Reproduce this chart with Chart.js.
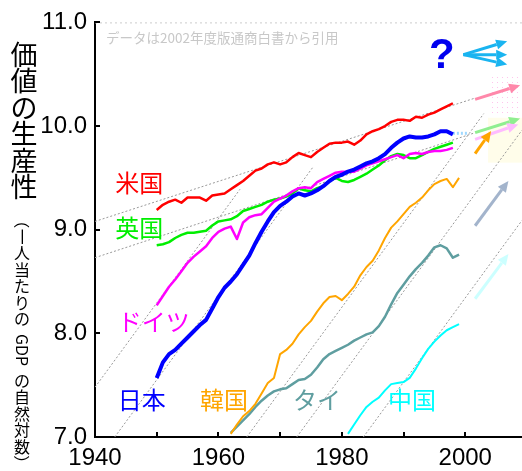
<!DOCTYPE html>
<html>
<head>
<meta charset="utf-8">
<script src="https://cdn.jsdelivr.net/npm/chart.js@4.4.0/dist/chart.umd.min.js"></script>
<style>
  html, body { margin: 0; padding: 0; background: #fff; }
</style>
</head>
<body>
<canvas id="c" width="522" height="471"></canvas>
<script>
// --- data (ln of GDP per capita) ---
const yearsWest = [1950,1951,1952,1953,1954,1955,1956,1957,1958,1959,1960,1961,1962,1963,1964,1965,1966,1967,1968,1969,
  1970,1971,1972,1973,1974,1975,1976,1977,1978,1979,1980,1981,1982,1983,1984,1985,1986,1987,1988,1989,
  1990,1991,1992,1993,1994,1995,1996,1997,1998];
const usa = [9.19,9.24,9.27,9.29,9.26,9.31,9.31,9.31,9.28,9.33,9.34,9.35,9.39,9.43,9.47,9.52,9.57,9.59,9.63,9.65,
  9.63,9.65,9.70,9.74,9.72,9.70,9.75,9.79,9.83,9.84,9.84,9.85,9.82,9.86,9.92,9.95,9.97,10.00,10.04,10.06,
  10.06,10.05,10.09,10.08,10.11,10.13,10.16,10.19,10.22];
const uk = [8.85,8.86,8.88,8.92,8.95,8.97,8.97,8.98,8.99,9.04,9.08,9.09,9.10,9.13,9.18,9.20,9.22,9.24,9.27,9.29,
  9.30,9.32,9.35,9.40,9.38,9.37,9.40,9.42,9.47,9.50,9.47,9.46,9.48,9.51,9.54,9.58,9.62,9.67,9.71,9.73,
  9.72,9.69,9.69,9.72,9.75,9.78,9.80,9.82,9.84];
const germany = [8.27,8.36,8.45,8.52,8.60,8.68,8.74,8.79,8.84,8.92,8.98,9.01,9.03,8.91,9.07,9.12,9.14,9.15,9.21,9.27,
  9.30,9.33,9.37,9.40,9.41,9.40,9.46,9.49,9.52,9.55,9.56,9.56,9.56,9.59,9.62,9.64,9.66,9.68,9.70,9.72,
  9.69,9.73,9.74,9.73,9.75,9.76,9.76,9.77,9.79];
const japan = [7.57,7.72,7.80,7.84,7.90,7.96,8.02,8.08,8.13,8.24,8.35,8.44,8.50,8.57,8.66,8.75,8.87,8.98,9.08,9.17,
  9.23,9.27,9.32,9.35,9.33,9.35,9.38,9.42,9.47,9.51,9.53,9.56,9.58,9.61,9.64,9.66,9.69,9.73,9.79,9.84,
  9.88,9.90,9.89,9.89,9.90,9.92,9.95,9.95,9.92];

const yearsAsia = [1962,1963,1964,1965,1966,1967,1968,1969,1970,1971,1972,1973,1974,1975,1976,1977,1978,1979,1980,
  1981,1982,1983,1984,1985,1986,1987,1988,1989,1990,1991,1992,1993,1994,1995,1996,1997,1998,1999];
const korea = [7.03,7.12,7.20,7.25,7.32,7.42,7.52,7.57,7.80,7.84,7.90,7.99,8.06,8.12,8.21,8.29,8.35,8.36,8.32,
  8.38,8.45,8.56,8.64,8.70,8.80,8.92,9.02,9.08,9.15,9.22,9.26,9.31,9.38,9.44,9.47,9.49,9.41,9.50];
const thai = [7.04,7.10,7.16,7.22,7.29,7.35,7.40,7.44,7.46,7.47,7.51,7.55,7.56,7.60,7.67,7.75,7.80,7.83,7.86,
  7.89,7.93,7.96,7.99,8.01,8.07,8.16,8.28,8.39,8.47,8.55,8.62,8.68,8.75,8.83,8.85,8.82,8.73,8.76];

const yearsChina = [1981,1982,1983,1984,1985,1986,1987,1988,1989,1990,1991,1992,1993,1994,1995,1996,1997,1998,1999];
const china = [7.03,7.12,7.21,7.29,7.34,7.38,7.45,7.51,7.52,7.53,7.57,7.66,7.76,7.85,7.92,7.98,8.03,8.06,8.09];

// dotted growth guides: [startYear, startValue, endYear, endValue]
const guideLines = [
  [1940, 9.08, 2001.6, 10.27],
  [1940, 8.73, 2001.3, 9.93],
  [1940, 7.48, 1963.5, 9.39],
  [1943.2, 7.0, 1975.4, 9.61],
  [1964.6, 7.0, 2003.0, 10.12],
  [1972.7, 7.0, 2009.2, 9.96],
  [1983.5, 7.0, 2009.2, 9.09]
];
const japanExt = [[1998, 9.93], [2000.4, 9.93]];

// future arrows: [fromYear, fromValue, toYear, toValue, colour]
const arrows = [
  [2001.6, 10.257, 2008.9, 10.394, '#ff88aa'],
  [2001.6, 9.936, 2008.9, 10.074, '#90ee90'],
  [2001.6, 9.872, 2008.6, 10.016, '#ffbbff'],
  [2001.6, 9.734, 2004.2, 9.952, '#ffa500'],
  [2001.6, 9.038, 2007.0, 9.471, '#a3b4cc'],
  [2001.6, 8.334, 2007.0, 8.766, '#ccffff'],
  [1999.7, 10.689, 2006.8, 10.817, '#1ab4f0'],
  [1999.7, 10.689, 2006.8, 10.689, '#1ab4f0'],
  [1999.7, 10.689, 2006.8, 10.593, '#1ab4f0']
];

const xTicks = [1940, 1950, 1960, 1970, 1980, 1990, 2000];
const xLabels = [1940, 1960, 1980, 2000];
const yTicks = [7, 8, 9, 10, 11];

const countryLabels = [
  ['米国', 1943.3, 9.45, '#ff0000'],
  ['英国', 1943.3, 9.02, '#00ee00'],
  ['ドイツ', 1943.7, 8.11, '#ff00ff'],
  ['日本', 1943.7, 7.36, '#0000ff'],
  ['韓国', 1957.0, 7.36, '#ffa500'],
  ['タイ', 1972.1, 7.36, '#5f9ea0'],
  ['中国', 1987.5, 7.36, '#00ffff']
];

const pts = (xs, ys) => ys.map((v, i) => ({ x: xs[i], y: v }));
const series = (data, color, width) => ({ data, borderColor: color, borderWidth: width, fill: false, order: 0 });

const datasets = [
  series(pts(yearsWest, japan), '#0000ff', 4),
  series(pts(yearsWest, usa), '#ff0000', 2.5),
  series(pts(yearsWest, germany), '#ff00ff', 2.5),
  series(pts(yearsWest, uk), '#00ee00', 2.5),
  series(pts(yearsAsia, korea), '#ffa500', 2),
  series(pts(yearsAsia, thai), '#5f9ea0', 2.5),
  series(pts(yearsChina, china), '#00ffff', 2),
  { data: japanExt.map(p => ({ x: p[0], y: p[1] })), borderColor: '#9fd8ff', borderWidth: 3, borderDash: [2, 2], order: 5 }
];
guideLines.forEach(g => {
  datasets.push({
    data: [{ x: g[0], y: g[1] }, { x: g[2], y: g[3] }],
    borderColor: '#999', borderWidth: 1, borderDash: [2, 2], order: 10
  });
});

function drawArrow(ctx, x1, y1, x2, y2, color) {
  const a = Math.atan2(y2 - y1, x2 - x1);
  const head = 11, half = 5;
  const bx = x2 - head * Math.cos(a), by = y2 - head * Math.sin(a);
  ctx.strokeStyle = color;
  ctx.lineWidth = 3;
  ctx.beginPath(); ctx.moveTo(x1, y1); ctx.lineTo(bx, by); ctx.stroke();
  ctx.fillStyle = color;
  ctx.beginPath();
  ctx.moveTo(x2, y2);
  ctx.lineTo(bx + half * Math.sin(a), by - half * Math.cos(a));
  ctx.lineTo(bx - half * Math.sin(a), by + half * Math.cos(a));
  ctx.closePath(); ctx.fill();
}

function verticalText(ctx, str, cx, top, size, step) {
  ctx.font = size + 'px "Noto Sans CJK JP", sans-serif';
  ctx.textAlign = 'center';
  ctx.textBaseline = 'middle';
  let y = top;
  for (const ch of str) {
    if (ch === ' ') { y += size * 0.4; continue; }
    const rot = /[A-Za-z0-9（）一ー]/.test(ch);
    let adv = step;
    if (/[A-Za-z]/.test(ch)) adv = ctx.measureText(ch).width;
    ctx.save();
    ctx.translate(cx, y + adv / 2);
    if (rot) ctx.rotate(Math.PI / 2);
    ctx.fillText(ch, 0, 0);
    ctx.restore();
    y += adv;
  }
}

const decor = {
  id: 'decor',
  beforeDatasetsDraw(chart) {
    const { ctx, chartArea: ca, scales: { x, y } } = chart;
    ctx.save();
    // pink dotted zone
    const pat = document.createElement('canvas');
    pat.width = 5; pat.height = 5;
    const pc = pat.getContext('2d');
    pc.fillStyle = '#ffc4ec';
    pc.fillRect(2, 2, 1, 1);
    const bx = x.getPixelForValue(2003.7);
    ctx.fillStyle = ctx.createPattern(pat, 'repeat');
    ctx.fillRect(bx, y.getPixelForValue(10.497), ca.right - bx, y.getPixelForValue(10.096) - y.getPixelForValue(10.497));
    ctx.fillStyle = '#fffdea';
    ctx.fillRect(bx, y.getPixelForValue(10.08), ca.right - bx, y.getPixelForValue(9.647) - y.getPixelForValue(10.08));
    // dotted line at the top value
    ctx.strokeStyle = '#cccccc';
    ctx.lineWidth = 1;
    ctx.setLineDash([2, 3]);
    ctx.beginPath();
    ctx.moveTo(ca.left, y.getPixelForValue(11) + 0.5);
    ctx.lineTo(ca.right, y.getPixelForValue(11) + 0.5);
    ctx.stroke();
    ctx.restore();
  },
  afterDatasetsDraw(chart) {
    const { ctx, scales: { x, y } } = chart;
    ctx.save();
    arrows.forEach(a => drawArrow(ctx, x.getPixelForValue(a[0]), y.getPixelForValue(a[1]),
      x.getPixelForValue(a[2]), y.getPixelForValue(a[3]), a[4]));
    ctx.fillStyle = '#0000ee';
    ctx.font = 'bold 42px "Liberation Sans", Arial, sans-serif';
    ctx.textAlign = 'center';
    ctx.textBaseline = 'middle';
    ctx.fillText('?', x.getPixelForValue(1996.2), y.getPixelForValue(10.69) + 2);

    ctx.font = '24px "Noto Sans CJK JP", sans-serif';
    ctx.textAlign = 'left';
    countryLabels.forEach(l => {
      ctx.fillStyle = l[3];
      ctx.fillText(l[0], x.getPixelForValue(l[1]), y.getPixelForValue(l[2]));
    });

    ctx.fillStyle = '#c8c8c8';
    ctx.font = '13.5px "Noto Sans CJK JP", sans-serif';
    ctx.fillText('データは2002年度版通商白書から引用', x.getPixelForValue(1941.8), y.getPixelForValue(10.85));
    ctx.restore();
  },
  afterDraw(chart) {
    const { ctx, chartArea: ca, scales: { x, y } } = chart;
    ctx.save();
    ctx.strokeStyle = '#000';
    ctx.lineWidth = 2;
    ctx.beginPath();
    xTicks.slice(1).forEach(v => {
      const px = Math.round(x.getPixelForValue(v));
      ctx.moveTo(px, ca.bottom); ctx.lineTo(px, ca.bottom - 5);
    });
    yTicks.forEach(v => {
      const py = Math.round(y.getPixelForValue(v));
      ctx.moveTo(ca.left, py); ctx.lineTo(ca.left + 5, py);
    });
    ctx.stroke();

    ctx.fillStyle = '#000';
    verticalText(ctx, '価値の生産性', 24, 41, 27, 26.5);
    verticalText(ctx, '（一人当たりの GDP の自然対数）', 22, 212, 16, 16.5);
    ctx.restore();
  }
};

new Chart(document.getElementById('c'), {
  type: 'line',
  data: { datasets },
  options: {
    responsive: false,
    animation: false,
    devicePixelRatio: 1,
    layout: { padding: { top: 20, right: 0, bottom: 0, left: 0 } },
    plugins: { legend: { display: false }, tooltip: { enabled: false } },
    elements: { point: { radius: 0 }, line: { tension: 0, borderJoinStyle: 'round' } },
    scales: {
      x: {
        type: 'linear', min: 1940, max: 2009.2,
        afterBuildTicks: s => { s.ticks = xTicks.map(v => ({ value: v })); },
        afterFit: s => { s.height = 34; },
        grid: { display: false, drawTicks: false },
        border: { display: true, color: '#000', width: 2 },
        ticks: {
          color: '#000', padding: 7, maxRotation: 0, autoSkip: false,
          font: { family: '"Liberation Sans", Arial, sans-serif', size: 24 },
          callback: v => xLabels.includes(v) ? String(v) : ''
        }
      },
      y: {
        min: 7, max: 11,
        afterBuildTicks: s => { s.ticks = yTicks.map(v => ({ value: v })); },
        afterFit: s => { s.width = 95; },
        grid: { display: false, drawTicks: false },
        border: { display: true, color: '#000', width: 2 },
        ticks: {
          color: '#000', padding: 8,
          font: { family: '"Liberation Sans", Arial, sans-serif', size: 24 },
          callback: v => v.toFixed(1)
        }
      }
    }
  },
  plugins: [decor]
});
</script>
</body>
</html>
